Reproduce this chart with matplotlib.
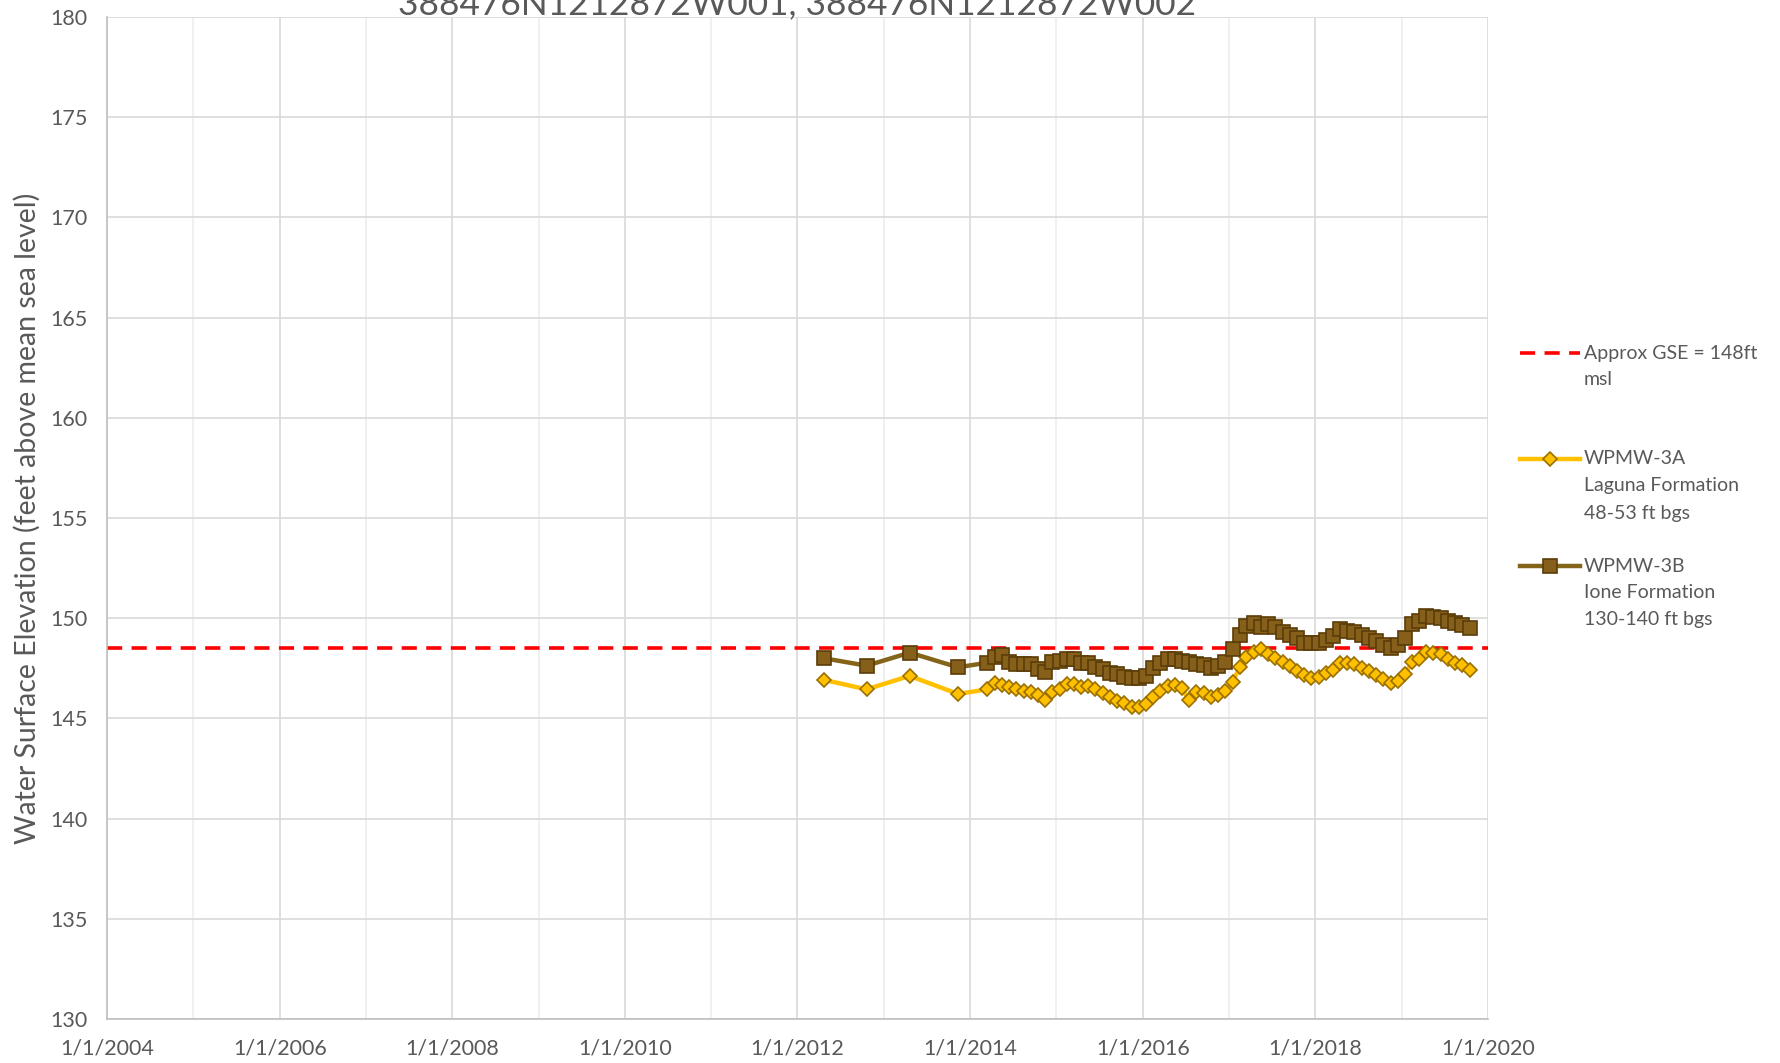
import matplotlib
matplotlib.use('Agg')
from matplotlib import pyplot as plt
from matplotlib.lines import Line2D
from matplotlib.ticker import FuncFormatter
import matplotlib.dates as mdates
import pandas as pd

# sampling dates (sparse readings first, then monthly)
dates = [
    '2012-04-23', '2012-10-19', '2013-04-20', '2013-11-10',
    '2014-03-15', '2014-04-15', '2014-05-15', '2014-06-15', '2014-07-15', '2014-08-15',
    '2014-09-15', '2014-10-15', '2014-11-15', '2014-12-15',
    '2015-01-15', '2015-02-15', '2015-03-15', '2015-04-15', '2015-05-15', '2015-06-15',
    '2015-07-15', '2015-08-15', '2015-09-15', '2015-10-15', '2015-11-15', '2015-12-15',
    '2016-01-15', '2016-02-15', '2016-03-15', '2016-04-15', '2016-05-15', '2016-06-15',
    '2016-07-15', '2016-08-15', '2016-09-15', '2016-10-15', '2016-11-15', '2016-12-15',
    '2017-01-15', '2017-02-15', '2017-03-15', '2017-04-15', '2017-05-15', '2017-06-15',
    '2017-07-15', '2017-08-15', '2017-09-15', '2017-10-15', '2017-11-15', '2017-12-15',
    '2018-01-15', '2018-02-15', '2018-03-15', '2018-04-15', '2018-05-15', '2018-06-15',
    '2018-07-15', '2018-08-15', '2018-09-15', '2018-10-15', '2018-11-15', '2018-12-15',
    '2019-01-15', '2019-02-15', '2019-03-15', '2019-04-15', '2019-05-15', '2019-06-15',
    '2019-07-15', '2019-08-15', '2019-09-15', '2019-10-15',
]

wpmw_3a = [
    146.92, 146.45, 147.12, 146.22,
    146.45, 146.78, 146.67, 146.55, 146.45, 146.37, 146.33, 146.17, 145.92, 146.33,
    146.45, 146.72, 146.72, 146.58, 146.62, 146.45, 146.28, 146.08, 145.88, 145.75, 145.59, 145.59,
    145.72, 146.08, 146.38, 146.60, 146.67, 146.50, 145.92, 146.33, 146.25, 146.05, 146.17, 146.38,
    146.83, 147.55, 148.05, 148.33, 148.46, 148.21, 148.00, 147.83, 147.61, 147.38, 147.17, 147.00,
    147.08, 147.25, 147.42, 147.75, 147.78, 147.71, 147.50, 147.38, 147.17, 146.95, 146.75, 146.88,
    147.22, 147.83, 147.95, 148.33, 148.25, 148.21, 147.95, 147.75, 147.66, 147.42,
]

wpmw_3b = [
    148.00, 147.63, 148.28, 147.55,
    147.78, 148.05, 148.16, 147.83, 147.71, 147.70, 147.70, 147.45, 147.33, 147.80,
    147.88, 147.95, 147.95, 147.75, 147.75, 147.55, 147.45, 147.28, 147.20, 147.08, 147.00, 147.00,
    147.12, 147.50, 147.78, 147.95, 147.95, 147.88, 147.83, 147.71, 147.66, 147.50, 147.61, 147.83,
    148.45, 149.16, 149.61, 149.74, 149.54, 149.71, 149.58, 149.33, 149.16, 149.00, 148.78, 148.75,
    148.75, 148.90, 149.11, 149.44, 149.38, 149.33, 149.16, 149.00, 148.88, 148.66, 148.50, 148.66,
    149.00, 149.71, 149.88, 150.11, 150.04, 149.99, 149.88, 149.74, 149.66, 149.50,
]

gse = 148.5

title = '388476N1212872W001, 388476N1212872W002'
y_label = 'Water Surface Elevation (feet above mean sea level)'
legend_gse = ['Approx GSE = 148ft', 'msl']
legend_3a = ['WPMW-3A', 'Laguna Formation', '48-53 ft bgs']
legend_3b = ['WPMW-3B', 'Ione Formation', '130-140 ft bgs']

plt.rcParams['font.family'] = ['Lato', 'DejaVu Sans']
txt = '#595959'
gold = '#FFC000'
gold_edge = '#9A7000'
brown = '#846419'
brown_face = '#86601A'
brown_edge = '#5A3C08'

x = pd.to_datetime(dates)

W, H = 1781, 1063
fig = plt.figure(figsize=(W / 100, H / 100), dpi=100)
ax = fig.add_axes([107 / W, 1 - 1019 / H, (1488 - 107) / W, (1019 - 17) / H])

ax.axhline(gse, color='#FF0000', lw=2.6, ls=(0, (4.2, 2.6)), zorder=2)
ax.plot(x, wpmw_3a, color=gold, lw=3.2, marker='D', ms=6.8,
        mfc=gold, mec=gold_edge, mew=1.2, zorder=3)
ax.plot(x, wpmw_3b, color=brown, lw=3.2, marker='s', ms=9.4,
        mfc=brown_face, mec=brown_edge, mew=1.2, zorder=4)

ax.set_xlim(pd.Timestamp('2004-01-01'), pd.Timestamp('2020-01-01'))
ax.set_ylim(130, 180)
ax.set_yticks(range(130, 181, 5))
ax.xaxis.set_major_locator(mdates.YearLocator(2))
ax.xaxis.set_minor_locator(mdates.YearLocator(1))
ax.xaxis.set_major_formatter(FuncFormatter(
    lambda v, p: '{d.month}/{d.day}/{d.year}'.format(d=mdates.num2date(v))))

ax.grid(which='major', color='#D9D9D9', lw=1.2, zorder=0)
ax.grid(which='minor', axis='x', color='#EDEDED', lw=1.2, zorder=0)
ax.set_axisbelow(True)
ax.tick_params(which='both', length=0, labelsize=15.5, labelcolor=txt)
ax.tick_params(axis='x', pad=14)
ax.tick_params(axis='y', pad=14)
for s in ['top', 'right']:
    ax.spines[s].set_visible(False)
for s in ['left', 'bottom']:
    ax.spines[s].set_color('#BFBFBF')
    ax.spines[s].set_linewidth(1.2)

# the title sits mostly above the canvas, as in the source image
fig.text(797 / W, 1 - 14 / H, title, ha='center', va='baseline', fontsize=25.4, color=txt)
fig.text(27 / W, 1 - 518 / H, y_label, rotation=90, ha='center', va='center',
         fontsize=20.5, color=txt)

# legend, drawn by hand so the handle sits on the first text line
hx0, hx1, tx = 1520 / W, 1580 / W, 1584 / W


def fy(py):
    return 1 - py / H


fig.add_artist(Line2D([hx0, hx1], [fy(353)] * 2, transform=fig.transFigure,
                      color='#FF0000', lw=2.6, ls=(0, (4.2, 2.6))))
fig.add_artist(Line2D([hx0, hx1], [fy(459)] * 2, transform=fig.transFigure,
                      color=gold, lw=3.2))
fig.add_artist(Line2D([(hx0 + hx1) / 2], [fy(459)], transform=fig.transFigure,
                      marker='D', ms=6.8, mfc=gold, mec=gold_edge, mew=1.2))
fig.add_artist(Line2D([hx0, hx1], [fy(566)] * 2, transform=fig.transFigure,
                      color=brown, lw=3.2))
fig.add_artist(Line2D([(hx0 + hx1) / 2], [fy(566)], transform=fig.transFigure,
                      marker='s', ms=9.4, mfc=brown_face, mec=brown_edge, mew=1.2))

for lines, y0 in [(legend_gse, 353), (legend_3a, 459), (legend_3b, 566)]:
    for i, line in enumerate(lines):
        fig.text(tx, fy(y0 + 27 * i), line, ha='left', va='center', fontsize=14, color=txt)

fig.savefig('out.png', dpi=100)
